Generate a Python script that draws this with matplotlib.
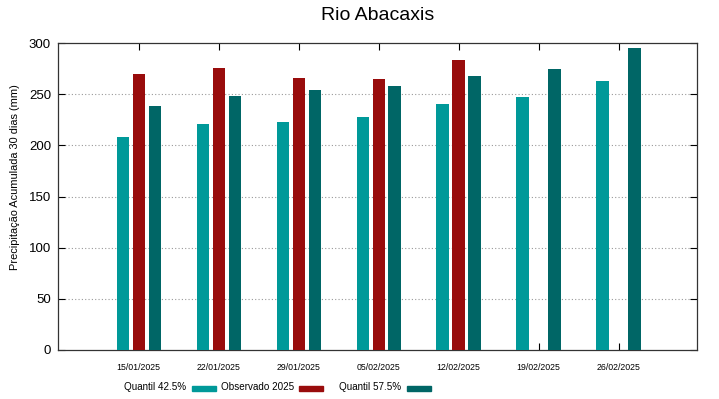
import numpy as np
import matplotlib
matplotlib.use("Agg")
import matplotlib.pyplot as plt
from matplotlib.patches import Rectangle

dates = ["15/01/2025", "22/01/2025", "29/01/2025", "05/02/2025",
         "12/02/2025", "19/02/2025", "26/02/2025"]
q425 = [208, 221, 223, 228, 240, 247, 263]
obs = [270, 276, 266, 265, 283, np.nan, np.nan]
q575 = [238, 248, 254, 258, 268, 275, 295]
series_names = ["Quantil 42.5%", "Observado 2025", "Quantil 57.5%"]
colors = ["#009999", "#990c0c", "#006666"]

W, H = 719, 399
fig = plt.figure(figsize=(W / 100, H / 100), dpi=100)
ax = fig.add_axes([58 / W, 1 - 350 / H, (697 - 58) / W, (350 - 43) / H])

x = np.arange(len(dates))
bw = 0.155
off = 0.2
for vals, dx, c in zip([q425, obs, q575], [-off, 0, off], colors):
    ax.bar(x + dx, vals, width=bw, color=c, zorder=3)

ax.set_xlim(-1.01, 6.98)
ax.set_ylim(0, 300)
ax.set_yticks(np.arange(0, 301, 50))
ax.set_xticks(x)
ax.set_xticklabels(dates, fontfamily="Liberation Sans", fontsize=6.3)
for lab in ax.get_yticklabels():
    lab.set_fontfamily("Liberation Sans")
    lab.set_fontsize(9.5)
ax.tick_params(axis="x", direction="in", top=True, bottom=True, length=5, pad=9.5, width=0.8)
ax.tick_params(axis="y", direction="in", left=True, right=True, length=5, pad=5, width=0.8)
for gy in range(50, 300, 50):
    ax.axhline(gy, color="#999999", linestyle=(0, (1, 2)), linewidth=0.8, zorder=1)
for s in ax.spines.values():
    s.set_linewidth(0.9)
    s.set_color("#333333")

fig.text(15.5 / W, 1 - 177.5 / H, "Precipitação Acumulada 30 dias (mm)", rotation=90,
         ha="center", va="center", fontfamily="Liberation Sans", fontsize=7.9)
fig.text(377.5 / W, 1 - 16 / H, "Rio Abacaxis", ha="center", va="center",
         fontfamily="Liberation Sans", fontsize=14)

# legend (text then swatch)
text_ends = [186, 294, 401]
sw_starts = [192, 299, 407]
ly = 388
for name, c, te, ss in zip(series_names, colors, text_ends, sw_starts):
    fig.text(te / W, 1 - (ly - 0.5) / H, name, ha="right", va="center",
             fontfamily="Liberation Sans", fontsize=7.1)
    fig.patches.append(Rectangle((ss / W, 1 - (ly + 2.5) / H), 24 / W, 5 / H,
                                 transform=fig.transFigure, color=c, figure=fig))

fig.savefig("out.png", dpi=100)
